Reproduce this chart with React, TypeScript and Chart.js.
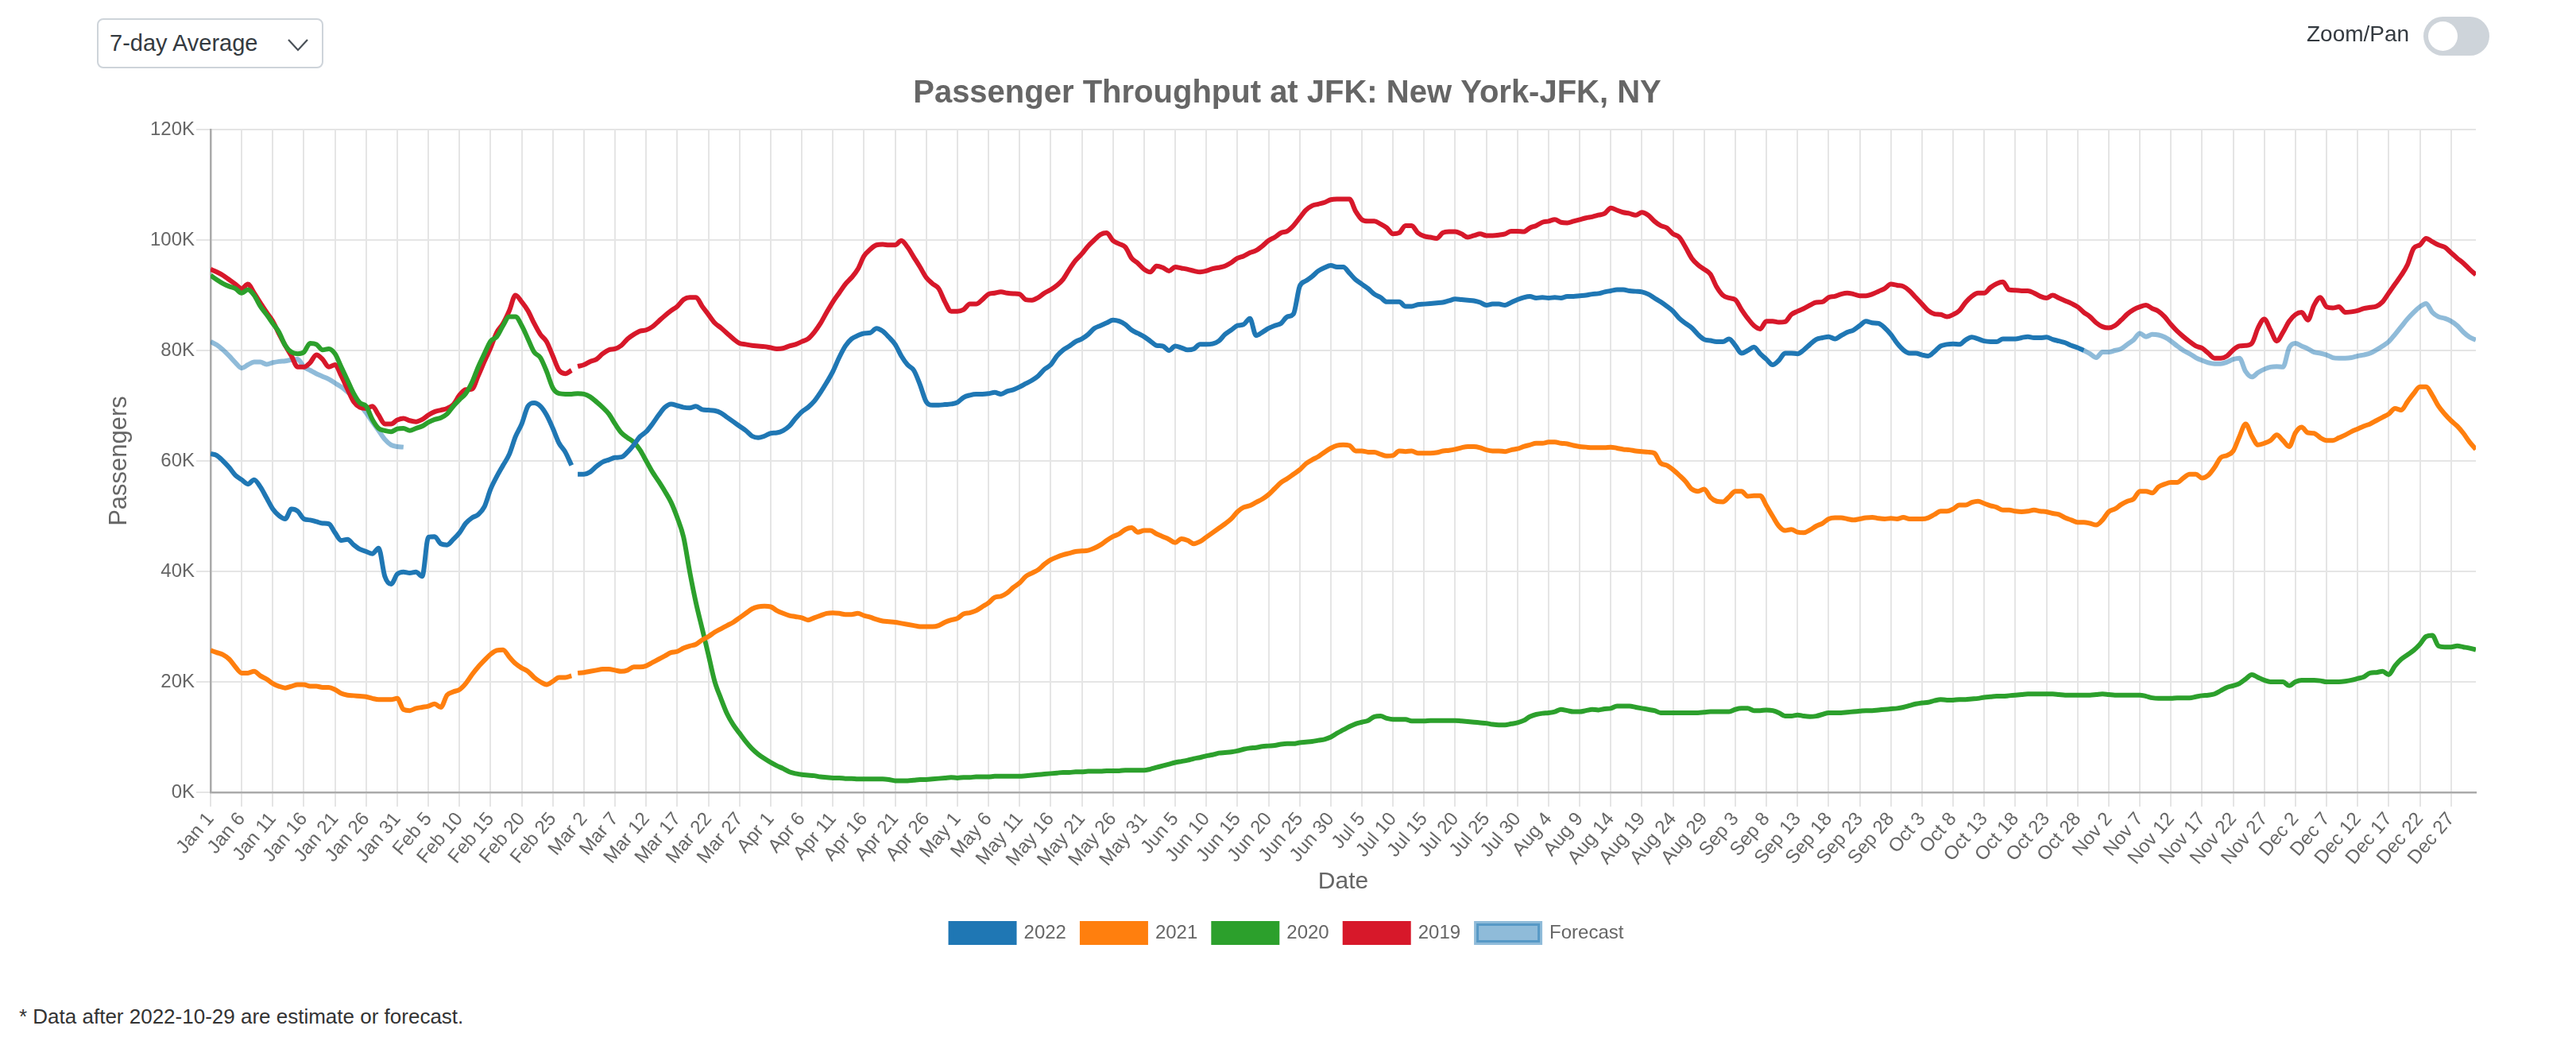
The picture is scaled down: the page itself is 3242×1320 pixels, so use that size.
import React, { useEffect, useRef } from 'react';
import { Chart, registerables } from 'chart.js';

Chart.register(...registerables);

// Tick labels every 5 days (day index 0, 5, ..., 360)
const xTickLabels = [
  'Jan 1', 'Jan 6', 'Jan 11', 'Jan 16', 'Jan 21', 'Jan 26', 'Jan 31',
  'Feb 5', 'Feb 10', 'Feb 15', 'Feb 20', 'Feb 25',
  'Mar 2', 'Mar 7', 'Mar 12', 'Mar 17', 'Mar 22', 'Mar 27',
  'Apr 1', 'Apr 6', 'Apr 11', 'Apr 16', 'Apr 21', 'Apr 26',
  'May 1', 'May 6', 'May 11', 'May 16', 'May 21', 'May 26', 'May 31',
  'Jun 5', 'Jun 10', 'Jun 15', 'Jun 20', 'Jun 25', 'Jun 30',
  'Jul 5', 'Jul 10', 'Jul 15', 'Jul 20', 'Jul 25', 'Jul 30',
  'Aug 4', 'Aug 9', 'Aug 14', 'Aug 19', 'Aug 24', 'Aug 29',
  'Sep 3', 'Sep 8', 'Sep 13', 'Sep 18', 'Sep 23', 'Sep 28',
  'Oct 3', 'Oct 8', 'Oct 13', 'Oct 18', 'Oct 23', 'Oct 28',
  'Nov 2', 'Nov 7', 'Nov 12', 'Nov 17', 'Nov 22', 'Nov 27',
  'Dec 2', 'Dec 7', 'Dec 12', 'Dec 17', 'Dec 22', 'Dec 27',
];

const yTickValues = [0, 20000, 40000, 60000, 80000, 100000, 120000];

// Daily 7-day averages, in thousands of passengers, day 0 = Jan 1
const y2022 = [
  61.3, 61.0, 60.0, 58.8, 57.4, 56.6, 55.8, 56.6, 55.3, 53.3,
  51.3, 50.1, 49.5, 51.3, 50.9, 49.5, 49.3, 49.0, 48.7, 48.6,
  47.0, 45.6, 45.8, 44.8, 44.0, 43.6, 43.2, 44.2, 39.1, 37.7,
  39.5, 39.9, 39.7, 39.9, 39.1, 46.2, 46.3, 45.0, 44.8, 45.8,
  47.0, 48.7, 49.7, 50.3, 51.7, 54.9, 57.2, 59.2, 61.2, 64.4,
  66.7, 69.9, 70.5, 69.9, 68.3, 65.9, 63.2, 61.6, 59.2, 57.6,
  57.6, 58.0, 59.0, 59.8, 60.2, 60.6, 60.7, 61.6, 62.9, 64.4,
  65.3, 66.7, 68.3, 69.7, 70.3, 70.0, 69.7, 69.6, 69.9, 69.3,
  69.2, 69.1, 68.7, 67.9, 67.1, 66.3, 65.5, 64.5, 64.2, 64.5,
  65.0, 65.1, 65.5, 66.3, 67.7, 68.9, 69.7, 70.8, 72.4, 74.2,
  76.2, 78.7, 80.8, 82.1, 82.7, 83.1, 83.2, 84.0, 83.5, 82.4,
  81.1, 79.0, 77.4, 76.4, 73.8, 70.7, 70.1, 70.1, 70.2, 70.3,
  70.6, 71.5, 71.9, 72.1, 72.1, 72.2, 72.4, 72.1, 72.6, 72.9,
  73.4, 74.0, 74.6, 75.4, 76.6, 77.4, 79.0, 80.1, 80.8, 81.6,
  82.1, 82.9, 84.0, 84.5, 85.0, 85.5, 85.3, 84.7, 83.7, 83.1,
  82.5, 81.7, 80.9, 80.8, 80.0, 80.8, 80.5, 80.1, 80.3, 81.1,
  81.1, 81.2, 81.7, 82.9, 83.7, 84.5, 84.7, 85.8, 82.7, 83.3,
  84.0, 84.5, 84.9, 86.1, 86.6, 91.6, 92.6, 93.4, 94.4, 95.0,
  95.4, 95.1, 95.1, 94.0, 92.8, 92.0, 91.2, 90.2, 89.6, 88.8,
  88.8, 88.8, 88.0, 88.0, 88.3, 88.4, 88.5, 88.6, 88.7, 89.0,
  89.3, 89.2, 89.1, 89.0, 88.7, 88.2, 88.4, 88.4, 88.2, 88.7,
  89.2, 89.6, 89.8, 89.5, 89.6, 89.5, 89.6, 89.5, 89.8, 89.8,
  89.9, 90.0, 90.2, 90.3, 90.6, 90.8, 91.0, 91.0, 90.8, 90.7,
  90.6, 90.2, 89.5, 88.8, 88.0, 87.1, 85.8, 84.9, 84.1, 82.9,
  82.0, 81.8, 81.6, 81.6, 82.1, 80.9, 79.5, 80.0, 80.6, 79.4,
  78.4, 77.4, 78.2, 79.5, 79.5, 79.4, 80.1, 81.1, 82.0, 82.3,
  82.5, 82.1, 82.7, 83.3, 83.7, 84.5, 85.3, 85.0, 84.9, 84.1,
  82.9, 81.3, 80.1, 79.5, 79.5, 79.2, 79.0, 79.8, 80.8, 81.1,
  81.2, 81.1, 81.9, 82.4, 82.1, 81.7, 81.6, 81.6, 82.1, 82.1,
  82.1, 82.3, 82.5, 82.3, 82.3, 82.4, 82.0, 81.7, 81.4, 80.9,
  80.5, 80.0,
];

const y2021 = [
  25.7, 25.3, 24.9, 24.1, 22.7, 21.6, 21.6, 21.9, 21.1, 20.5,
  19.7, 19.2, 18.9, 19.2, 19.5, 19.5, 19.2, 19.2, 19.0, 19.0,
  18.6, 17.9, 17.6, 17.5, 17.4, 17.3, 17.0, 16.8, 16.8, 16.8,
  17.0, 15.0, 14.8, 15.2, 15.4, 15.6, 16.0, 15.4, 17.6, 18.2,
  18.6, 19.7, 21.3, 22.7, 23.9, 25.0, 25.7, 25.8, 24.5, 23.3,
  22.5, 21.9, 20.8, 20.0, 19.5, 20.1, 20.8, 20.8, 21.1, 21.6,
  21.7, 21.9, 22.1, 22.3, 22.3, 22.1, 21.9, 22.1, 22.7, 22.7,
  22.9, 23.5, 24.1, 24.7, 25.3, 25.5, 26.1, 26.5, 26.8, 27.6,
  28.2, 29.0, 29.6, 30.2, 30.8, 31.6, 32.4, 33.2, 33.6, 33.7,
  33.6, 32.9, 32.4, 32.0, 31.8, 31.6, 31.2, 31.6, 32.0, 32.4,
  32.5, 32.4, 32.2, 32.2, 32.4, 32.0, 31.7, 31.3, 31.0, 30.9,
  30.8, 30.6, 30.4, 30.2, 30.0, 30.0, 30.0, 30.2, 30.8, 31.2,
  31.5, 32.3, 32.5, 32.9, 33.6, 34.3, 35.3, 35.5, 36.1, 37.1,
  37.9, 39.1, 39.7, 40.3, 41.3, 42.1, 42.6, 43.0, 43.3, 43.6,
  43.7, 43.8, 44.2, 44.8, 45.6, 46.3, 46.8, 47.6, 47.9, 47.1,
  47.4, 47.4, 46.8, 46.3, 45.8, 45.2, 45.9, 45.6, 45.0, 45.4,
  46.2, 47.0, 47.8, 48.6, 49.5, 50.8, 51.6, 51.9, 52.5, 53.1,
  53.9, 55.0, 56.1, 56.8, 57.6, 58.4, 59.5, 60.2, 60.8, 61.6,
  62.3, 62.8, 62.9, 62.8, 61.8, 61.8, 61.6, 61.6, 61.2, 60.9,
  61.0, 61.8, 61.7, 61.8, 61.4, 61.4, 61.4, 61.5, 61.8, 61.9,
  62.1, 62.4, 62.6, 62.6, 62.4, 62.0, 61.8, 61.8, 61.7, 62.0,
  62.2, 62.6, 62.9, 63.2, 63.2, 63.4, 63.4, 63.2, 63.1, 62.8,
  62.6, 62.5, 62.4, 62.4, 62.4, 62.5, 62.3, 62.1, 62.0, 61.8,
  61.7, 61.6, 61.4, 59.6, 59.2, 58.4, 57.4, 56.3, 54.9, 54.5,
  54.9, 53.4, 52.7, 52.6, 53.5, 54.5, 54.5, 53.6, 53.7, 53.7,
  51.9, 50.0, 48.2, 47.4, 47.6, 47.1, 47.0, 47.5, 48.2, 48.7,
  49.5, 49.7, 49.7, 49.5, 49.3, 49.5, 49.7, 49.8, 49.6, 49.5,
  49.6, 49.5, 49.8, 49.5, 49.5, 49.5, 49.7, 50.3, 50.9, 50.9,
  51.3, 52.0, 52.0, 52.5, 52.7, 52.3, 51.9, 51.6, 51.1, 51.1,
  50.9, 50.8, 50.9, 51.1, 50.9, 50.8, 50.5, 50.3, 49.7, 49.3,
  48.9, 48.9, 48.7, 48.4, 49.3, 50.8, 51.3, 52.1, 52.7, 53.1,
  54.5, 54.5, 54.2, 55.3, 55.8, 56.1, 56.1, 56.9, 57.6, 57.6,
  56.9, 57.4, 58.8, 60.6, 61.0, 61.8, 64.4, 66.7, 64.5, 62.9,
  63.2, 63.7, 64.7, 63.7, 62.6, 65.1, 66.1, 65.1, 65.0, 64.2,
  63.7, 63.7, 64.2, 64.7, 65.3, 65.8, 66.3, 66.7, 67.3, 67.9,
  68.5, 69.5, 69.2, 70.7, 72.2, 73.4, 73.4, 71.9, 69.9, 68.5,
  67.3, 66.3, 65.0, 63.4, 62.1,
];

const y2020 = [
  93.6, 92.8, 92.1, 91.6, 91.2, 90.4, 91.0, 90.0, 88.0, 86.5,
  84.9, 83.3, 80.9, 79.7, 79.4, 79.7, 81.3, 81.1, 80.1, 80.3,
  79.4, 77.0, 74.6, 72.2, 70.5, 69.9, 67.5, 65.9, 65.5, 65.3,
  65.8, 65.9, 65.5, 65.9, 66.3, 67.0, 67.5, 67.8, 68.5, 69.9,
  71.1, 72.2, 74.2, 77.0, 79.4, 81.7, 82.5, 84.5, 86.1, 86.1,
  84.5, 82.1, 79.7, 78.7, 76.2, 73.2, 72.2, 72.1, 72.1, 72.2,
  72.1, 71.6, 70.7, 69.7, 68.5, 66.7, 65.1, 64.2, 63.4, 62.0,
  60.0, 58.0, 56.3, 54.5, 52.5, 49.7, 46.2, 39.9, 34.3, 29.6,
  24.9, 20.1, 17.0, 14.2, 12.2, 10.7, 9.2, 7.9, 6.9, 6.1,
  5.4, 4.8, 4.3, 3.7, 3.4, 3.2, 3.1, 3.0, 2.8, 2.7,
  2.6, 2.6, 2.5, 2.5, 2.4, 2.4, 2.4, 2.4, 2.4, 2.3,
  2.1, 2.1, 2.1, 2.2, 2.3, 2.3, 2.4, 2.5, 2.6, 2.7,
  2.6, 2.7, 2.7, 2.8, 2.8, 2.8, 2.9, 2.9, 2.9, 2.9,
  2.9, 3.0, 3.1, 3.2, 3.3, 3.4, 3.5, 3.6, 3.6, 3.7,
  3.7, 3.8, 3.8, 3.8, 3.9, 3.9, 3.9, 4.0, 4.0, 4.0,
  4.0, 4.2, 4.5, 4.8, 5.1, 5.4, 5.6, 5.8, 6.1, 6.3,
  6.6, 6.8, 7.1, 7.2, 7.3, 7.5, 7.8, 8.0, 8.1, 8.3,
  8.4, 8.5, 8.7, 8.8, 8.8, 9.0, 9.1, 9.2, 9.4, 9.6,
  10.0, 10.7, 11.3, 11.9, 12.4, 12.7, 13.0, 13.7, 13.8, 13.4,
  13.2, 13.2, 13.2, 12.9, 12.9, 12.9, 13.0, 13.0, 13.0, 13.0,
  13.0, 12.9, 12.8, 12.7, 12.6, 12.5, 12.3, 12.2, 12.2, 12.4,
  12.6, 13.0, 13.7, 14.1, 14.3, 14.4, 14.6, 15.0, 14.8, 14.6,
  14.6, 14.8, 15.0, 14.9, 15.1, 15.2, 15.6, 15.6, 15.6, 15.4,
  15.2, 15.0, 14.8, 14.4, 14.4, 14.4, 14.4, 14.4, 14.4, 14.4,
  14.5, 14.6, 14.6, 14.6, 14.6, 15.0, 15.2, 15.2, 14.8, 14.8,
  14.9, 14.8, 14.4, 13.8, 13.8, 14.0, 13.8, 13.7, 13.8, 14.1,
  14.4, 14.4, 14.4, 14.5, 14.6, 14.7, 14.8, 14.8, 14.9, 15.0,
  15.1, 15.2, 15.4, 15.7, 16.0, 16.2, 16.3, 16.6, 16.8, 16.7,
  16.7, 16.8, 16.8, 16.9, 17.0, 17.2, 17.3, 17.4, 17.4, 17.5,
  17.6, 17.7, 17.8, 17.8, 17.8, 17.8, 17.8, 17.7, 17.6, 17.6,
  17.6, 17.6, 17.6, 17.7, 17.8, 17.7, 17.6, 17.6, 17.6, 17.6,
  17.6, 17.4, 17.1, 17.0, 17.0, 17.0, 17.1, 17.1, 17.1, 17.3,
  17.5, 17.6, 17.8, 18.4, 19.0, 19.3, 19.7, 20.5, 21.3, 20.8,
  20.3, 20.0, 20.0, 20.0, 19.3, 20.0, 20.3, 20.3, 20.3, 20.2,
  20.0, 20.0, 20.0, 20.1, 20.3, 20.6, 20.9, 21.6, 21.7, 21.9,
  21.3, 22.9, 24.1, 24.9, 25.7, 26.8, 28.2, 28.4, 26.5, 26.3,
  26.3, 26.5, 26.3, 26.1, 25.8,
];

const y2019 = [
  94.7, 94.2, 93.6, 92.8, 92.0, 91.2, 92.0, 90.4, 88.6, 86.9,
  85.3, 83.0, 80.9, 79.0, 77.0, 77.0, 77.8, 79.2, 78.4, 77.0,
  77.4, 75.4, 73.0, 70.7, 69.7, 69.5, 69.9, 68.3, 66.7, 66.7,
  67.4, 67.7, 67.3, 67.1, 67.5, 68.3, 68.9, 69.2, 69.5, 70.2,
  71.9, 72.9, 73.0, 75.4, 78.0, 80.5, 83.3, 84.9, 87.2, 90.0,
  88.8, 87.2, 84.9, 82.9, 81.6, 79.0, 76.4, 75.8, 76.4, 77.1,
  77.4, 78.0, 78.4, 79.4, 80.1, 80.3, 80.9, 82.1, 82.9, 83.5,
  83.7, 84.3, 85.3, 86.3, 87.2, 88.0, 89.2, 89.6, 89.6, 88.0,
  86.5, 85.0, 84.1, 83.1, 82.1, 81.3, 81.1, 80.9, 80.8, 80.7,
  80.5, 80.3, 80.4, 80.8, 81.1, 81.6, 82.1, 83.3, 84.9, 86.9,
  88.8, 90.4, 92.0, 93.2, 94.7, 97.1, 98.3, 99.1, 99.2, 99.1,
  99.1, 99.9, 98.7, 96.9, 95.1, 93.2, 92.1, 91.2, 88.8, 87.1,
  87.1, 87.4, 88.4, 88.4, 89.2, 90.2, 90.4, 90.6, 90.4, 90.3,
  90.2, 89.2, 89.1, 89.6, 90.4, 91.0, 91.8, 92.9, 94.7, 96.3,
  97.5, 98.9, 100.0, 101.0, 101.3, 99.9, 99.3, 98.7, 96.7, 95.8,
  94.7, 94.2, 95.3, 95.0, 94.4, 95.1, 94.9, 94.7, 94.4, 94.2,
  94.4, 94.8, 95.0, 95.3, 95.9, 96.7, 97.1, 97.7, 98.1, 98.9,
  99.9, 100.5, 101.3, 101.6, 102.6, 104.0, 105.4, 106.2, 106.5, 106.8,
  107.3, 107.4, 107.4, 107.4, 105.2, 103.7, 103.4, 103.4, 102.9, 102.2,
  101.1, 101.3, 102.6, 102.6, 101.3, 100.7, 100.5, 100.3, 101.3, 101.5,
  101.5, 101.1, 100.5, 100.8, 101.1, 100.8, 100.8, 100.9, 101.1, 101.6,
  101.6, 101.5, 102.2, 102.6, 103.2, 103.4, 103.7, 103.2, 103.1, 103.4,
  103.7, 104.0, 104.2, 104.5, 104.8, 105.8, 105.4, 105.0, 104.8, 104.5,
  105.0, 104.5, 103.4, 102.6, 102.2, 101.1, 100.5, 98.7, 96.7, 95.5,
  94.7, 93.8, 91.5, 90.0, 89.5, 89.2, 87.4, 85.8, 84.5, 83.9,
  85.3, 85.3, 85.1, 85.2, 86.5, 87.1, 87.6, 88.2, 88.7, 88.8,
  89.6, 89.8, 90.2, 90.4, 90.2, 89.9, 89.9, 90.2, 90.7, 91.2,
  92.0, 91.8, 91.6, 90.8, 89.6, 88.4, 87.2, 86.6, 86.5, 86.1,
  86.5, 87.2, 88.7, 89.8, 90.4, 90.4, 91.4, 92.1, 92.4, 91.0,
  90.9, 90.8, 90.8, 90.4, 89.8, 89.5, 90.0, 89.5, 89.0, 88.5,
  87.9, 86.9, 86.1, 85.0, 84.3, 84.1, 84.5, 85.5, 86.6, 87.4,
  87.9, 88.2, 87.6, 87.1, 86.1, 84.7, 83.5, 82.5, 81.6, 80.8,
  80.4, 79.5, 78.6, 78.6, 79.0, 80.1, 80.8, 80.9, 81.3, 84.1,
  85.7, 83.7, 81.7, 83.3, 85.3, 86.5, 86.9, 85.5, 88.2, 89.6,
  87.9, 87.7, 87.9, 86.9, 87.0, 87.2, 87.6, 87.8, 88.0, 88.8,
  90.4, 92.0, 93.6, 95.5, 98.5, 99.1, 100.3, 99.7, 99.1, 98.7,
  97.7, 96.7, 95.8, 94.7, 93.7,
];

// Forecast: early-January segment (from day 0) and post-Oct-29 segment
const forecastEarly = [
  81.6, 81.0, 80.1, 79.0, 77.8, 76.8, 77.4, 77.9, 77.9, 77.5,
  77.8, 78.0, 78.1, 78.3, 78.4, 77.0, 76.4, 75.8, 75.3, 74.8,
  74.1, 73.4, 72.5, 71.6, 70.2, 68.7, 67.1, 65.5, 63.9, 62.9,
  62.6, 62.5,
];
const FORECAST_LATE_START = 301;
const forecastLate = [
  80.0, 79.4, 78.7, 79.7, 79.7, 80.0, 80.3, 81.1, 81.9,
  83.1, 82.5, 82.9, 82.8, 82.4, 81.7, 80.8, 80.0, 79.4, 78.7,
  78.2, 77.8, 77.6, 77.6, 77.9, 78.4, 78.6, 76.2, 75.2, 76.0,
  76.6, 77.0, 77.1, 77.0, 80.5, 81.3, 80.8, 80.3, 79.7, 79.5,
  79.2, 78.7, 78.6, 78.6, 78.7, 79.0, 79.2, 79.5, 80.1, 80.8,
  81.6, 82.9, 84.3, 85.7, 86.9, 87.9, 88.5, 86.9, 86.1, 85.8,
  85.3, 84.5, 83.3, 82.4, 81.9,
];

// Non-leap years have no Feb 29: the line breaks after this day index
const NO_FEB29_BREAK_AFTER = 58;

const seriesColors = {
  y2022: '#1f77b4',
  y2021: '#ff7f0e',
  y2020: '#2ca02c',
  y2019: '#d7182a',
  forecast: 'rgba(31,119,180,0.5)',
};

type Pt = { x: number; y: number | null };

function toPoints(values: number[], start = 0, breakAfter = -1): Pt[] {
  const pts: Pt[] = [];
  values.forEach((v, i) => {
    const x = start + i;
    pts.push({ x, y: v * 1000 });
    if (x === breakAfter) pts.push({ x: x + 0.5, y: null });
  });
  return pts;
}

const FONT = '"Liberation Sans", Arial, Helvetica, sans-serif';

export default function App() {
  const canvasRef = useRef<HTMLCanvasElement | null>(null);

  useEffect(() => {
    document.body.style.margin = '0';
    document.body.style.overflow = 'hidden';
    const canvas = canvasRef.current;
    if (!canvas) return;

    const forecastPts: Pt[] = [
      ...toPoints(forecastEarly, 0),
      { x: forecastEarly.length - 0.5, y: null },
      ...toPoints(forecastLate, FORECAST_LATE_START),
    ];

    const common = {
      pointRadius: 0,
      pointHoverRadius: 0,
      borderWidth: 6,
      cubicInterpolationMode: 'monotone' as const,
      spanGaps: false,
      fill: false,
    };

    const chart = new Chart(canvas, {
      type: 'line',
      data: {
        datasets: [
          { label: '2022', data: toPoints(y2022, 0, NO_FEB29_BREAK_AFTER), borderColor: seriesColors.y2022, backgroundColor: seriesColors.y2022, ...common },
          { label: '2021', data: toPoints(y2021, 0, NO_FEB29_BREAK_AFTER), borderColor: seriesColors.y2021, backgroundColor: seriesColors.y2021, ...common },
          { label: '2020', data: toPoints(y2020, 0), borderColor: seriesColors.y2020, backgroundColor: seriesColors.y2020, ...common },
          { label: '2019', data: toPoints(y2019, 0, NO_FEB29_BREAK_AFTER), borderColor: seriesColors.y2019, backgroundColor: seriesColors.y2019, ...common },
          { label: 'Forecast', data: forecastPts, borderColor: seriesColors.forecast, backgroundColor: seriesColors.forecast, ...common },
        ],
      },
      options: {
        animation: false,
        responsive: false,
        devicePixelRatio: 1,
        layout: { padding: { left: 124, right: 126, top: 90, bottom: 4 } },
        plugins: {
          title: {
            display: true,
            text: 'Passenger Throughput at JFK: New York-JFK, NY',
            color: '#666',
            font: { family: FONT, size: 40, weight: 'bold' },
            padding: { top: 4, bottom: 21 },
          },
          legend: {
            display: true,
            position: 'bottom',
            labels: {
              color: '#666',
              font: { family: FONT, size: 24 },
              boxWidth: 80,
              boxHeight: 24,
              padding: 20,
            },
          },
          tooltip: { enabled: false },
        },
        scales: {
          x: {
            type: 'linear',
            min: 0,
            max: 364,
            afterFit: (scale: any) => { scale.height = 145; },
            ticks: {
              stepSize: 5,
              autoSkip: false,
              includeBounds: false,
              maxTicksLimit: 200,
              minRotation: 50,
              maxRotation: 50,
              color: '#666',
              padding: 2,
              font: { family: FONT, size: 24 },
              callback: (value: any) => {
                const idx = Math.round(Number(value) / 5);
                return Number(value) % 5 === 0 ? xTickLabels[idx] : '';
              },
            },
            grid: { color: '#e5e5e5', lineWidth: 2, tickLength: 18 },
            border: { color: '#aaaaaa', width: 2.5 },
            title: {
              display: true,
              text: 'Date',
              color: '#666',
              font: { family: FONT, size: 30 },
              padding: { top: 4, bottom: 14 },
            },
          },
          y: {
            min: 0,
            max: 120000,
            afterFit: (scale: any) => { scale.width = 141; },
            afterBuildTicks: (scale: any) => {
              scale.ticks = yTickValues.map((v) => ({ value: v }));
            },
            ticks: {
              color: '#666',
              padding: 2,
              font: { family: FONT, size: 24 },
              callback: (value: any) => `${Number(value) / 1000}K`,
            },
            grid: { color: '#e5e5e5', lineWidth: 2, tickLength: 18 },
            border: { color: '#aaaaaa', width: 2.5 },
            title: {
              display: true,
              text: 'Passengers',
              color: '#666',
              font: { family: FONT, size: 31 },
              padding: { top: 8, bottom: 4 },
            },
          },
        },
      },
    } as any);

    return () => chart.destroy();
  }, []);

  return (
    <div style={{ position: 'relative', width: 3242, height: 1320, background: '#fff', fontFamily: FONT, overflow: 'hidden' }}>
      <canvas ref={canvasRef} width={3242} height={1200} style={{ position: 'absolute', left: 0, top: 0, width: 3242, height: 1200 }} />
      <div style={{ position: 'absolute', left: 122, top: 23, width: 285, height: 63, boxSizing: 'border-box', border: '2px solid #ced4da', borderRadius: 8, background: '#fff', display: 'flex', alignItems: 'center' }}>
        <span style={{ marginLeft: 14, fontSize: 29, color: '#343a40' }}>7-day Average</span>
        <svg width={26} height={16} style={{ position: 'absolute', left: 238, top: 24 }}>
          <polyline points="1,1 13,14 25,1" fill="none" stroke="#495057" strokeWidth={2.2} />
        </svg>
      </div>
      <div style={{ position: 'absolute', left: 2903, top: 27, fontSize: 28, color: '#343a40' }}>Zoom/Pan</div>
      <div style={{ position: 'absolute', left: 3050, top: 21, width: 83, height: 49, borderRadius: 25, background: '#ced4da' }}>
        <div style={{ position: 'absolute', left: 6, top: 6, width: 37, height: 37, borderRadius: '50%', background: '#fff' }} />
      </div>
      <div style={{ position: 'absolute', left: 24, top: 1264, fontSize: 26, color: '#333' }}>* Data after 2022-10-29 are estimate or forecast.</div>
    </div>
  );
}
